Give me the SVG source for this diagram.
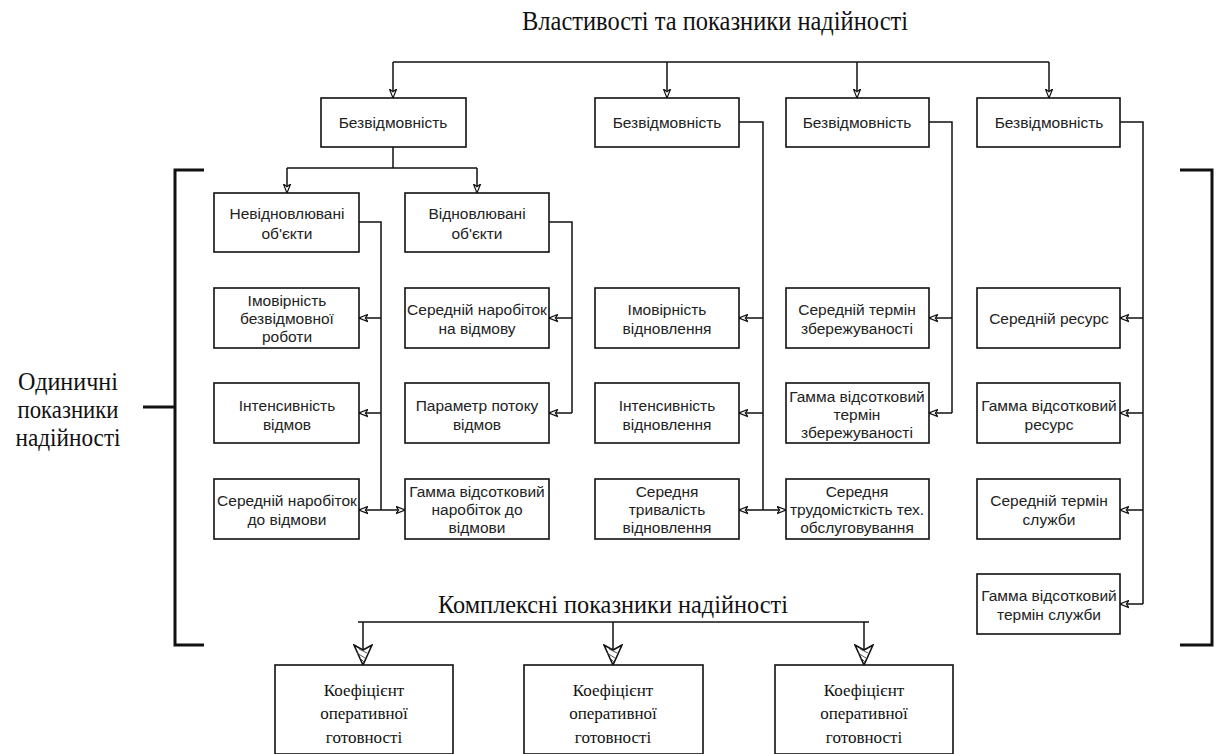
<svg xmlns="http://www.w3.org/2000/svg" width="1229" height="754" viewBox="0 0 1229 754">
<style>
.bx{fill:#fff;stroke:#111;stroke-width:1.6}
.t{font-family:"Liberation Sans",Arial,sans-serif;font-size:15.5px;fill:#222;text-anchor:middle}
.s{font-family:"Liberation Serif","Times New Roman",serif;fill:#111;text-anchor:middle}
.c{fill:none;stroke:#111;stroke-width:1.5}
.br{fill:none;stroke:#111;stroke-width:3}
</style>
<defs>
<marker id="a" viewBox="0 0 10 10" refX="10" refY="5" markerWidth="9" markerHeight="9" markerUnits="userSpaceOnUse" orient="auto-start-reverse"><path d="M0,1 L10,5 L0,9 L3,5 Z" fill="#fff" stroke="#111" stroke-width="1.3"/></marker>
<marker id="b" viewBox="0 0 22 20" refX="21" refY="10" markerWidth="22" markerHeight="20" markerUnits="userSpaceOnUse" orient="auto"><path d="M1,1 L21,10 L1,19 L6,10 Z" fill="#fff" stroke="#111" stroke-width="1.6"/><path d="M9,6 L5,14 M14,8 L9,16 M18,9 L14,13" stroke="#555" stroke-width="1"/></marker>
</defs>
<text class="s" x="715" y="30" font-size="27" textLength="386" lengthAdjust="spacingAndGlyphs">Властивості  та  показники  надійності</text>
<text class="s" font-size="26"><tspan x="68" y="390" textLength="100" lengthAdjust="spacingAndGlyphs">Одиничні</tspan><tspan x="68" y="418" textLength="101" lengthAdjust="spacingAndGlyphs">показники</tspan><tspan x="68" y="446" textLength="105" lengthAdjust="spacingAndGlyphs">надійності</tspan></text>
<text class="s" x="613" y="613" font-size="25" textLength="350" lengthAdjust="spacingAndGlyphs">Комплексні  показники  надійності</text>
<g id="connectors">
<path class="c" d="M393,62 H1049"/>
<path class="c" d="M393,62 V98" marker-end="url(#a)"/>
<path class="c" d="M667,62 V98" marker-end="url(#a)"/>
<path class="c" d="M857,62 V98" marker-end="url(#a)"/>
<path class="c" d="M1049,62 V98" marker-end="url(#a)"/>
<path class="c" d="M393,147 V168 M287,168 H477"/>
<path class="c" d="M287,168 V193" marker-end="url(#a)"/>
<path class="c" d="M477,168 V193" marker-end="url(#a)"/>
<path class="c" d="M359,222 H381 V510"/>
<path class="c" d="M381,318 H359" marker-end="url(#a)"/>
<path class="c" d="M381,413 H359" marker-end="url(#a)"/>
<path class="c" d="M359,510 H405" marker-start="url(#a)" marker-end="url(#a)"/>
<path class="c" d="M549,222 H572 V413"/>
<path class="c" d="M572,318 H549" marker-end="url(#a)"/>
<path class="c" d="M572,413 H549" marker-end="url(#a)"/>
<path class="c" d="M739,122 H763 V510"/>
<path class="c" d="M763,318 H739" marker-end="url(#a)"/>
<path class="c" d="M763,413 H739" marker-end="url(#a)"/>
<path class="c" d="M739,510 H786" marker-start="url(#a)" marker-end="url(#a)"/>
<path class="c" d="M929,122 H952 V413"/>
<path class="c" d="M952,318 H929" marker-end="url(#a)"/>
<path class="c" d="M952,413 H929" marker-end="url(#a)"/>
<path class="c" d="M1120,122 H1143 V604"/>
<path class="c" d="M1143,318 H1120" marker-end="url(#a)"/>
<path class="c" d="M1143,413 H1120" marker-end="url(#a)"/>
<path class="c" d="M1143,510 H1120" marker-end="url(#a)"/>
<path class="c" d="M1143,604 H1120" marker-end="url(#a)"/>
<path class="c" d="M358,622 H869"/>
<path class="c" d="M363,622 V665" marker-end="url(#b)"/>
<path class="c" d="M613,622 V665" marker-end="url(#b)"/>
<path class="c" d="M864,622 V665" marker-end="url(#b)"/>
<path class="br" d="M204,170 H175 V645 H204 M143,407 H175"/>
<path class="br" d="M1180,170 H1212 V645 H1180"/>
</g>
<g id="n1"><rect class="bx" x="321" y="98" width="145" height="49"/><text class="t" x="393" y="128">Безвідмовність</text></g>
<g id="n2"><rect class="bx" x="595" y="98" width="144" height="49"/><text class="t" x="667" y="128">Безвідмовність</text></g>
<g id="n3"><rect class="bx" x="786" y="98" width="143" height="49"/><text class="t" x="857" y="128">Безвідмовність</text></g>
<g id="n4"><rect class="bx" x="977" y="98" width="143" height="49"/><text class="t" x="1049" y="128">Безвідмовність</text></g>
<g id="n5"><rect class="bx" x="214" y="193" width="145" height="59"/><text class="t"><tspan x="287" y="219">Невідновлювані</tspan><tspan x="287" y="239">об'єкти</tspan></text></g>
<g id="n6"><rect class="bx" x="405" y="193" width="144" height="59"/><text class="t"><tspan x="477" y="219">Відновлювані</tspan><tspan x="477" y="239">об'єкти</tspan></text></g>
<g id="n7"><rect class="bx" x="214" y="288" width="145" height="60"/><text class="t"><tspan x="287" y="306">Імовірність</tspan><tspan x="287" y="324">безвідмовної</tspan><tspan x="287" y="342">роботи</tspan></text></g>
<g id="n8"><rect class="bx" x="405" y="288" width="144" height="60"/><text class="t"><tspan x="477" y="315">Середній наробіток</tspan><tspan x="477" y="334">на відмову</tspan></text></g>
<g id="n9"><rect class="bx" x="595" y="288" width="144" height="60"/><text class="t"><tspan x="667" y="315">Імовірність</tspan><tspan x="667" y="334">відновлення</tspan></text></g>
<g id="n10"><rect class="bx" x="786" y="288" width="143" height="60"/><text class="t"><tspan x="857" y="315">Середній термін</tspan><tspan x="857" y="334">збережуваності</tspan></text></g>
<g id="n11"><rect class="bx" x="977" y="288" width="143" height="60"/><text class="t" x="1049" y="324">Середній ресурс</text></g>
<g id="n12"><rect class="bx" x="214" y="383" width="145" height="60"/><text class="t"><tspan x="287" y="411">Інтенсивність</tspan><tspan x="287" y="430">відмов</tspan></text></g>
<g id="n13"><rect class="bx" x="405" y="383" width="144" height="60"/><text class="t"><tspan x="477" y="411">Параметр потоку</tspan><tspan x="477" y="430">відмов</tspan></text></g>
<g id="n14"><rect class="bx" x="595" y="383" width="144" height="60"/><text class="t"><tspan x="667" y="411">Інтенсивність</tspan><tspan x="667" y="430">відновлення</tspan></text></g>
<g id="n15"><rect class="bx" x="786" y="383" width="143" height="60"/><text class="t"><tspan x="857" y="402">Гамма відсотковий</tspan><tspan x="857" y="420">термін</tspan><tspan x="857" y="438">збережуваності</tspan></text></g>
<g id="n16"><rect class="bx" x="977" y="383" width="143" height="60"/><text class="t"><tspan x="1049" y="411">Гамма відсотковий</tspan><tspan x="1049" y="430">ресурс</tspan></text></g>
<g id="n17"><rect class="bx" x="214" y="479" width="145" height="60"/><text class="t"><tspan x="287" y="506">Середній наробіток</tspan><tspan x="287" y="525">до відмови</tspan></text></g>
<g id="n18"><rect class="bx" x="405" y="479" width="144" height="60"/><text class="t"><tspan x="477" y="497">Гамма відсотковий</tspan><tspan x="477" y="515">наробіток до</tspan><tspan x="477" y="533">відмови</tspan></text></g>
<g id="n19"><rect class="bx" x="595" y="479" width="144" height="60"/><text class="t"><tspan x="667" y="497">Середня</tspan><tspan x="667" y="515">тривалість</tspan><tspan x="667" y="533">відновлення</tspan></text></g>
<g id="n20"><rect class="bx" x="786" y="479" width="143" height="60"/><text class="t"><tspan x="857" y="497">Середня</tspan><tspan x="857" y="515">трудомісткість тех.</tspan><tspan x="857" y="533">обслуговування</tspan></text></g>
<g id="n21"><rect class="bx" x="977" y="479" width="143" height="60"/><text class="t"><tspan x="1049" y="506">Середній термін</tspan><tspan x="1049" y="525">служби</tspan></text></g>
<g id="n22"><rect class="bx" x="977" y="574" width="143" height="60"/><text class="t"><tspan x="1049" y="601">Гамма відсотковий</tspan><tspan x="1049" y="620">термін служби</tspan></text></g>
<g id="n23"><rect class="bx" x="275" y="665" width="178" height="89"/><text class="s" font-size="17"><tspan x="364" y="696">Коефіцієнт</tspan><tspan x="364" y="719">оперативної</tspan><tspan x="364" y="743">готовності</tspan></text></g>
<g id="n24"><rect class="bx" x="524" y="665" width="179" height="89"/><text class="s" font-size="17"><tspan x="613" y="696">Коефіцієнт</tspan><tspan x="613" y="719">оперативної</tspan><tspan x="613" y="743">готовності</tspan></text></g>
<g id="n25"><rect class="bx" x="775" y="665" width="178" height="89"/><text class="s" font-size="17"><tspan x="864" y="696">Коефіцієнт</tspan><tspan x="864" y="719">оперативної</tspan><tspan x="864" y="743">готовності</tspan></text></g>
</svg>
